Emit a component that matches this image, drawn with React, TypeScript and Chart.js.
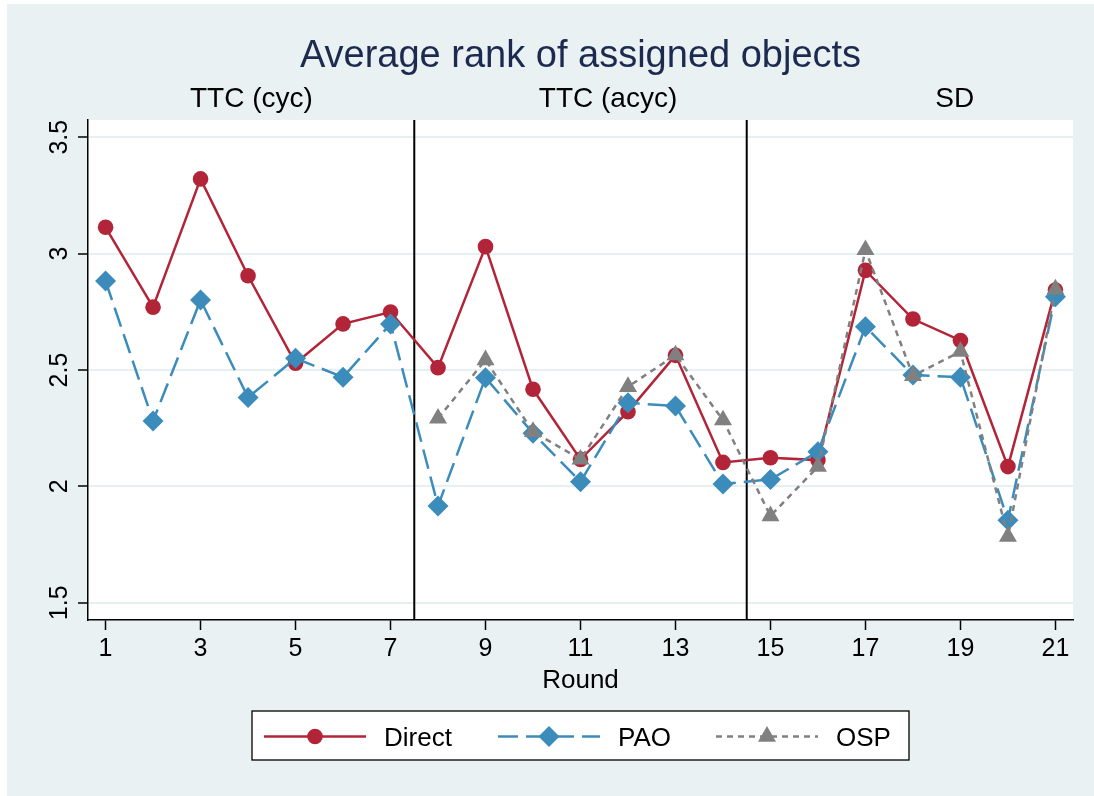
import React, { useEffect, useRef } from 'react';
import { Chart, registerables } from 'chart.js';

Chart.register(...registerables);

// ---------- data ----------
const rounds = [1, 2, 3, 4, 5, 6, 7, 8, 9, 10, 11, 12, 13, 14, 15, 16, 17, 18, 19, 20, 21];
const directValues = [3.113, 2.77, 3.321, 2.905, 2.529, 2.698, 2.749, 2.51, 3.03, 2.417, 2.116, 2.321, 2.563, 2.103, 2.123, 2.113, 2.928, 2.719, 2.627, 2.085, 2.844];
const paoValues = [2.882, 2.281, 2.801, 2.382, 2.55, 2.469, 2.698, 1.916, 2.467, 2.228, 2.02, 2.359, 2.345, 2.01, 2.03, 2.149, 2.686, 2.478, 2.469, 1.855, 2.815];
const ospValues: (number | null)[] = [null, null, null, null, null, null, null, 2.292, 2.543, 2.235, 2.116, 2.428, 2.564, 2.285, 1.873, 2.085, 3.016, 2.475, 2.579, 1.784, 2.847];
const seriesNames = ['Direct', 'PAO', 'OSP'];
const xTickValues = [1, 3, 5, 7, 9, 11, 13, 15, 17, 19, 21];
const yTickValues = [1.5, 2, 2.5, 3, 3.5];
const sectionLabels = ['TTC (cyc)', 'TTC (acyc)', 'SD'];
const sectionLabelRounds = [4.07, 11.58, 18.88];
const sectionBreaks = [7.5, 14.5];
const chartTitle = 'Average rank of assigned objects';
const xAxisTitle = 'Round';

// ---------- styles ----------
const FONT = '"Liberation Sans", Arial, Helvetica, sans-serif';
const BG = '#e9f1f3';
const GRID = '#e6eff1';
const RED = '#b22437';
const BLUE = '#3b8cbb';
const GRAY = '#808080';
const TITLE_COLOR = '#1c2a50';

const toPoints = (vals: (number | null)[]) => rounds.map((r, i) => ({ x: r, y: vals[i] }));

function drawMarker(ctx: CanvasRenderingContext2D, kind: string, cx: number, cy: number, color: string) {
  ctx.save();
  ctx.fillStyle = color;
  ctx.setLineDash([]);
  ctx.beginPath();
  if (kind === 'circle') {
    ctx.arc(cx, cy, 7.8, 0, Math.PI * 2);
  } else if (kind === 'diamond') {
    const r = 10.5;
    ctx.moveTo(cx, cy - r);
    ctx.lineTo(cx + r, cy);
    ctx.lineTo(cx, cy + r);
    ctx.lineTo(cx - r, cy);
    ctx.closePath();
  } else {
    const r = 10.4;
    ctx.moveTo(cx, cy - r);
    ctx.lineTo(cx + r * Math.sin((2 * Math.PI) / 3), cy - r * Math.cos((2 * Math.PI) / 3));
    ctx.lineTo(cx + r * Math.sin((4 * Math.PI) / 3), cy - r * Math.cos((4 * Math.PI) / 3));
    ctx.closePath();
  }
  ctx.fill();
  ctx.restore();
}

const backgroundPlugin = {
  id: 'stataBackground',
  beforeDraw(chart: any) {
    const { ctx, chartArea } = chart;
    ctx.save();
    ctx.fillStyle = '#ffffff';
    ctx.fillRect(0, 0, chart.width, chart.height);
    ctx.fillStyle = BG;
    ctx.fillRect(7, 4, chart.width - 7, chart.height - 4);
    ctx.fillStyle = '#ffffff';
    ctx.fillRect(chartArea.left, chartArea.top, chartArea.right - chartArea.left, chartArea.bottom - chartArea.top);
    ctx.restore();
  },
  beforeDatasetsDraw(chart: any) {
    const { ctx, chartArea, scales } = chart;
    ctx.save();
    ctx.strokeStyle = '#000';
    ctx.lineWidth = 2;
    sectionBreaks.forEach((b) => {
      const x = scales.x.getPixelForValue(b);
      ctx.beginPath();
      ctx.moveTo(x, chartArea.top);
      ctx.lineTo(x, chartArea.bottom);
      ctx.stroke();
    });
    ctx.restore();
  },
  afterDraw(chart: any) {
    const { ctx, chartArea, scales } = chart;
    const cx = (chartArea.left + chartArea.right) / 2;
    ctx.save();
    // title
    ctx.fillStyle = TITLE_COLOR;
    ctx.font = `38px ${FONT}`;
    ctx.textAlign = 'center';
    ctx.textBaseline = 'alphabetic';
    ctx.fillText(chartTitle, cx, 67);
    // section labels
    ctx.fillStyle = '#000';
    ctx.font = `28px ${FONT}`;
    sectionLabels.forEach((lab, i) => {
      ctx.fillText(lab, scales.x.getPixelForValue(sectionLabelRounds[i]), 107);
    });
    // y tick labels (rotated)
    ctx.font = `25px ${FONT}`;
    scales.y.ticks.forEach((t: any) => {
      const y = scales.y.getPixelForValue(t.value);
      ctx.save();
      ctx.translate(67, y);
      ctx.rotate(-Math.PI / 2);
      ctx.textAlign = 'center';
      ctx.textBaseline = 'alphabetic';
      ctx.fillText(String(t.value), 0, 0);
      ctx.restore();
    });
    // x axis title
    ctx.font = `26px ${FONT}`;
    ctx.textAlign = 'center';
    ctx.fillText(xAxisTitle, cx, 688);
    // legend
    const boxL = 252, boxT = 711, boxW = 657, boxH = 49;
    ctx.fillStyle = '#fff';
    ctx.fillRect(boxL, boxT, boxW, boxH);
    ctx.strokeStyle = '#000';
    ctx.lineWidth = 1.3;
    ctx.strokeRect(boxL, boxT, boxW, boxH);
    const ly = 736.5;
    const items = [
      { x0: 264, color: RED, dash: [] as number[], marker: 'circle' },
      { x0: 498, color: BLUE, dash: [20, 8], marker: 'diamond' },
      { x0: 716, color: GRAY, dash: [6, 5], marker: 'triangle' },
    ];
    items.forEach((it, i) => {
      ctx.save();
      ctx.strokeStyle = it.color;
      ctx.lineWidth = 2.5;
      ctx.setLineDash(it.dash);
      ctx.beginPath();
      ctx.moveTo(it.x0, ly);
      ctx.lineTo(it.x0 + 102, ly);
      ctx.stroke();
      ctx.restore();
      drawMarker(ctx, it.marker, it.x0 + 51, ly, it.color);
      ctx.fillStyle = '#000';
      ctx.font = `26px ${FONT}`;
      ctx.textAlign = 'left';
      ctx.textBaseline = 'alphabetic';
      ctx.fillText(seriesNames[i], it.x0 + 120, ly + 9);
    });
    ctx.restore();
  },
};

export default function App() {
  const canvasRef = useRef<HTMLCanvasElement>(null);

  useEffect(() => {
    const canvas = canvasRef.current;
    if (!canvas) return;
    const chart = new Chart(canvas, {
      type: 'line',
      data: {
        datasets: [
          {
            label: seriesNames[0],
            data: toPoints(directValues),
            borderColor: RED,
            backgroundColor: RED,
            borderWidth: 2.5,
            pointStyle: 'circle',
            pointRadius: 7.8,
            pointBackgroundColor: RED,
            pointBorderWidth: 0,
            tension: 0,
            fill: false,
            order: 2,
          },
          {
            label: seriesNames[1],
            data: toPoints(paoValues),
            borderColor: BLUE,
            backgroundColor: BLUE,
            borderWidth: 2.5,
            borderDash: [20, 8],
            pointStyle: 'rectRot',
            pointRadius: 10.5,
            pointBackgroundColor: BLUE,
            pointBorderWidth: 0,
            tension: 0,
            fill: false,
            order: 1,
          },
          {
            label: seriesNames[2],
            data: toPoints(ospValues),
            borderColor: GRAY,
            backgroundColor: GRAY,
            borderWidth: 2.5,
            borderDash: [6, 5],
            pointStyle: 'triangle',
            pointRadius: 10.4,
            pointBackgroundColor: GRAY,
            pointBorderWidth: 0,
            tension: 0,
            fill: false,
            spanGaps: false,
            order: 0,
          },
        ],
      },
      options: {
        responsive: false,
        animation: false,
        devicePixelRatio: 1,
        layout: { padding: { left: 0, top: 120, right: 21, bottom: 96 } },
        plugins: {
          legend: { display: false },
          title: { display: false },
          tooltip: { enabled: false },
        },
        scales: {
          x: {
            type: 'linear',
            min: 0.63,
            max: 21.37,
            afterBuildTicks: (s: any) => {
              s.ticks = xTickValues.map((v) => ({ value: v }));
            },
            afterFit: (s: any) => {
              s.height = 80;
            },
            ticks: {
              autoSkip: false,
              maxRotation: 0,
              minRotation: 0,
              padding: 4,
              color: '#000',
              font: { family: FONT, size: 25 },
              callback: (v: any) => String(v),
            },
            grid: {
              drawOnChartArea: false,
              drawTicks: true,
              tickLength: 10,
              tickColor: '#000',
              tickWidth: 1.5,
            },
            border: { display: true, color: '#000', width: 1.5 },
          },
          y: {
            type: 'linear',
            min: 1.426,
            max: 3.574,
            afterBuildTicks: (s: any) => {
              s.ticks = yTickValues.map((v) => ({ value: v }));
            },
            afterFit: (s: any) => {
              s.width = 88;
            },
            ticks: { display: false, autoSkip: false },
            grid: {
              color: GRID,
              lineWidth: 2,
              drawTicks: true,
              tickLength: 10,
              tickColor: '#000',
              tickWidth: 1.5,
            },
            border: { display: true, color: '#000', width: 1.5 },
          },
        },
      },
      plugins: [backgroundPlugin],
    } as any);
    return () => chart.destroy();
  }, []);

  return (
    <div style={{ position: 'fixed', left: 0, top: 0, width: 1094, height: 796, background: '#fff' }}>
      <canvas ref={canvasRef} width={1094} height={796} style={{ display: 'block', width: 1094, height: 796 }} />
    </div>
  );
}
